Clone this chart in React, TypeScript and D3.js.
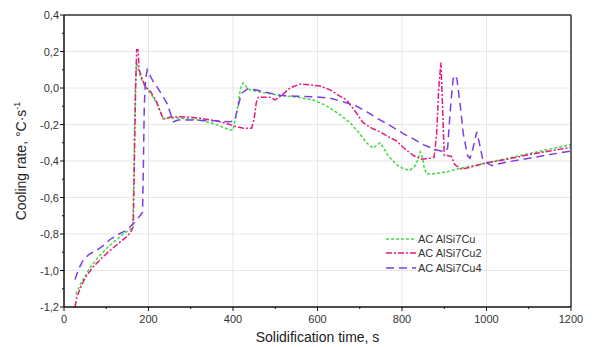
import React from "react";
import * as d3 from "d3";

const W = 593;
const H = 347;

const xTicks = [0, 200, 400, 600, 800, 1000, 1200];
const xMinor = [100, 300, 500, 700, 900, 1100];
const yTicks = [0.4, 0.2, 0.0, -0.2, -0.4, -0.6, -0.8, -1.0, -1.2];
const yMinor = [0.3, 0.1, -0.1, -0.3, -0.5, -0.7, -0.9, -1.1];
const yTickLabels = ["0,4", "0,2", "0,0", "-0,2", "-0,4", "-0,6", "-0,8", "-1,0", "-1,2"];

const seriesNames = ["AC AlSi7Cu", "AC AlSi7Cu2", "AC AlSi7Cu4"];
const seriesColors = ["#3fdc3f", "#e6197d", "#7b3fe4"];
const seriesDash = ["3,2", "6,2,2,2", "8,5"];

const greenT = [28, 40, 60, 80, 100, 120, 140, 160, 163, 165, 167, 169, 172, 176, 183, 192, 205, 219, 228, 235, 250, 275, 300, 330, 360, 393, 400, 410, 418, 424, 432, 440, 470, 511, 550, 590, 610, 630, 655, 677, 700, 716, 732, 742, 748, 757, 767, 787, 805, 819, 830, 836, 843, 848, 853, 858, 875, 906, 937, 960, 1000, 1050, 1100, 1150, 1200];
const greenV = [-1.13, -1.07, -0.99, -0.93, -0.88, -0.84, -0.8, -0.77, -0.74, -0.5, -0.2, 0.0, 0.14, 0.1, 0.05, 0.01, -0.03, -0.08, -0.13, -0.17, -0.165, -0.165, -0.17, -0.18, -0.2, -0.23, -0.23, -0.12, 0.0, 0.028, 0.005, -0.01, -0.025, -0.04, -0.05, -0.066, -0.085, -0.11, -0.15, -0.19, -0.25, -0.3, -0.33, -0.31, -0.3, -0.33, -0.37, -0.42, -0.445, -0.45, -0.43, -0.4, -0.35, -0.38, -0.44, -0.47, -0.47, -0.46, -0.44, -0.43, -0.41, -0.385, -0.36, -0.335, -0.31];

const pinkT = [26, 30, 38, 50, 69, 90, 109, 130, 148, 158, 164, 166, 168, 170, 172, 175, 178, 185, 192, 205, 219, 228, 235, 250, 275, 300, 322, 360, 393, 404, 425, 444, 450, 455, 460, 487, 500, 515, 535, 559, 580, 606, 630, 650, 669, 690, 708, 728, 748, 770, 787, 805, 827, 846, 866, 876, 882, 887, 892, 896, 900, 908, 917, 925, 941, 960, 1000, 1050, 1100, 1150, 1200];
const pinkV = [-1.2, -1.15, -1.1, -1.04, -0.98, -0.93, -0.89, -0.85, -0.815, -0.79, -0.76, -0.5, -0.2, 0.05, 0.21, 0.21, 0.1, 0.05, 0.01, -0.02, -0.075, -0.13, -0.17, -0.16, -0.157, -0.16, -0.166, -0.18, -0.2, -0.21, -0.22, -0.22, -0.17, -0.08, -0.05, -0.05, -0.065, -0.04, 0.0, 0.022, 0.018, 0.011, -0.01, -0.04, -0.066, -0.13, -0.19, -0.22, -0.24, -0.27, -0.29, -0.33, -0.37, -0.39, -0.385, -0.38, -0.25, 0.0, 0.14, -0.1, -0.37, -0.37, -0.375, -0.42, -0.445, -0.435, -0.41, -0.39, -0.365, -0.345, -0.325];

const purpleT = [26, 35, 46, 60, 77, 95, 109, 130, 148, 165, 180, 186, 188, 190, 193, 197, 203, 210, 219, 230, 243, 252, 259, 270, 300, 330, 360, 393, 404, 412, 420, 436, 472, 511, 550, 590, 630, 660, 693, 720, 748, 775, 803, 828, 850, 882, 902, 908, 915, 921, 925, 930, 938, 945, 955, 961, 968, 977, 983, 990, 994, 1008, 1012, 1050, 1100, 1150, 1200];
const purpleV = [-1.05, -0.99, -0.94, -0.91, -0.89, -0.86, -0.83, -0.8, -0.78, -0.74, -0.7, -0.68, -0.4, -0.1, 0.05, 0.1, 0.07, 0.04, 0.01, -0.03, -0.08, -0.14, -0.185, -0.175, -0.175, -0.178, -0.18, -0.185, -0.18, -0.1, -0.03, -0.002, -0.02, -0.04, -0.045, -0.048, -0.056, -0.075, -0.1, -0.135, -0.175, -0.21, -0.25, -0.28, -0.31, -0.34, -0.35, -0.33, -0.1, 0.05, 0.07, 0.05, -0.1, -0.25, -0.37, -0.385, -0.33, -0.24, -0.3, -0.38, -0.4, -0.42, -0.425, -0.405, -0.385, -0.365, -0.345];

const seriesT = [greenT, pinkT, purpleT];
const seriesV = [greenV, pinkV, purpleV];

const M = { left: 64, right: 571, top: 15, bottom: 307 };
const FONT = "'Liberation Sans', Arial, sans-serif";

export default function App() {
  const x = d3.scaleLinear().domain([0, 1200]).range([M.left, M.right]);
  const y = d3.scaleLinear().domain([-1.2, 0.4]).range([M.bottom, M.top]);
  const line = d3
    .line<[number, number]>()
    .x((d) => x(d[0]))
    .y((d) => y(d[1]));

  const legendX = 386;
  const legendY = [239, 253, 268];

  return (
    <svg
      width={W}
      height={H}
      style={{ position: "absolute", left: 0, top: 0, background: "#fff" }}
    >
      {/* grid */}
      {xTicks.slice(1, -1).map((t) => (
        <line key={"gx" + t} x1={x(t)} x2={x(t)} y1={M.top} y2={M.bottom} stroke="#e6e6e6" strokeWidth={1} />
      ))}
      {yTicks.slice(1, -1).map((t) => (
        <line key={"gy" + t} x1={M.left} x2={M.right} y1={y(t)} y2={y(t)} stroke="#e6e6e6" strokeWidth={1} />
      ))}

      {/* series */}
      {seriesT.map((ts, i) => (
        <path
          key={"s" + i}
          d={line(ts.map((t, j) => [t, seriesV[i][j]] as [number, number])) || ""}
          fill="none"
          stroke={seriesColors[i]}
          strokeWidth={1.5}
          strokeDasharray={seriesDash[i]}
        />
      ))}

      {/* frame */}
      <line x1={M.left} x2={M.right} y1={M.top} y2={M.top} stroke="#333" strokeWidth={1.5} />
      <line x1={M.right} x2={M.right} y1={M.top} y2={M.bottom} stroke="#333" strokeWidth={1.5} />
      <line x1={M.left} x2={M.left} y1={M.top} y2={M.bottom} stroke="#111" strokeWidth={1.5} />
      <line x1={M.left} x2={M.right} y1={M.bottom} y2={M.bottom} stroke="#111" strokeWidth={1.5} />

      {/* x ticks */}
      {xTicks.map((t) => (
        <g key={"xt" + t}>
          <line x1={x(t)} x2={x(t)} y1={M.bottom} y2={M.bottom + 4} stroke="#111" strokeWidth={1} />
          <text x={x(t)} y={323} textAnchor="middle" fontFamily={FONT} fontSize={11} fill="#333">
            {t}
          </text>
        </g>
      ))}
      {xMinor.map((t) => (
        <line key={"xm" + t} x1={x(t)} x2={x(t)} y1={M.bottom} y2={M.bottom + 2} stroke="#111" strokeWidth={1} />
      ))}

      {/* y ticks */}
      {yTicks.map((t, i) => (
        <g key={"yt" + t}>
          <line x1={M.left - 4} x2={M.left} y1={y(t)} y2={y(t)} stroke="#111" strokeWidth={1} />
          <text x={59} y={y(t) + 4} textAnchor="end" fontFamily={FONT} fontSize={11} fill="#333">
            {yTickLabels[i]}
          </text>
        </g>
      ))}
      {yMinor.map((t) => (
        <line key={"ym" + t} x1={M.left - 2} x2={M.left} y1={y(t)} y2={y(t)} stroke="#111" strokeWidth={1} />
      ))}

      {/* axis titles */}
      <text x={(M.left + M.right) / 2} y={342} textAnchor="middle" fontFamily={FONT} fontSize={14} fill="#222">
        Solidification time, s
      </text>
      <text
        transform={`translate(26, ${(M.top + M.bottom) / 2}) rotate(-90)`}
        textAnchor="middle"
        fontFamily={FONT}
        fontSize={14}
        fill="#222"
      >
        Cooling rate, °C·s
        <tspan fontSize={9} dy={-6}>-1</tspan>
      </text>

      {/* legend */}
      {seriesNames.map((n, i) => (
        <g key={"lg" + i}>
          <line
            x1={legendX}
            x2={legendX + 30}
            y1={legendY[i]}
            y2={legendY[i]}
            stroke={seriesColors[i]}
            strokeWidth={1.5}
            strokeDasharray={seriesDash[i]}
          />
          <text x={legendX + 32} y={legendY[i] + 4} fontFamily={FONT} fontSize={11} fill="#333">
            {n}
          </text>
        </g>
      ))}
    </svg>
  );
}
